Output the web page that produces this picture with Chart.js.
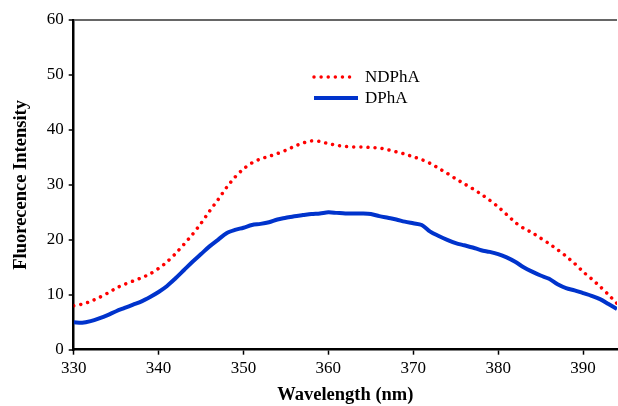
<!DOCTYPE html>
<html>
<head>
<meta charset="utf-8">
<script src="https://cdn.jsdelivr.net/npm/chart.js@4"></script>
<style>
  html, body { margin: 0; padding: 0; background: #fff; }
  #wrap { width: 618px; height: 406px; }
</style>
</head>
<body>
<div id="wrap"><canvas id="myChart" width="618" height="406"></canvas></div>
<script>
// wavelength in nm, one reading per nm
let wavelengths = [];
for (let w = 330; w <= 394; w++) wavelengths.push(w);

let ndpha = [
  8.0, 8.3, 8.8, 9.5, 10.3, 11.2, 11.9, 12.5, 13.1, 13.8,
  14.8, 16.0, 17.5, 19.2, 21.0, 23.0, 25.2, 27.3, 29.5, 31.4,
  32.9, 34.0, 34.7, 35.2, 35.7, 36.3, 37.0, 37.6, 38.0, 37.9,
  37.5, 37.2, 37.0, 36.9, 36.9, 36.8, 36.7, 36.4, 36.0, 35.6,
  35.1, 34.6, 33.9, 33.0, 32.1, 31.1, 30.2, 29.3, 28.3, 27.2,
  26.0, 24.6, 23.2, 22.1, 21.3, 20.3, 19.3, 18.2, 17.0, 15.7,
  14.2, 12.9, 11.5, 10.0, 8.4
];

let dpha = [
  5.0, 4.9, 5.2, 5.7, 6.3, 7.0, 7.6, 8.2, 8.8, 9.6,
  10.5, 11.6, 13.0, 14.5, 16.0, 17.4, 18.8, 20.0, 21.2, 21.8,
  22.2, 22.7, 22.9, 23.2, 23.7, 24.0, 24.3, 24.5, 24.7, 24.8,
  25.0, 24.9, 24.8, 24.8, 24.8, 24.7, 24.3, 24.0, 23.7, 23.3,
  23.0, 22.7, 21.5, 20.7, 20.0, 19.4, 19.0, 18.6, 18.1, 17.8,
  17.4, 16.8, 16.0, 15.0, 14.2, 13.5, 12.9, 11.9, 11.2, 10.8,
  10.3, 9.8, 9.2, 8.3, 7.4
];

let xTicks = [330, 340, 350, 360, 370, 380, 390];
let yTicks = [0, 10, 20, 30, 40, 50, 60];

let serif = "'Liberation Serif', 'Times New Roman', serif";

// small legend drawn inside the plot, like the original
const innerLegend = {
  id: 'innerLegend',
  afterDatasetsDraw(chart) {
    const c = chart.ctx;
    const rows = [
      { ds: chart.data.datasets[0], y: 77 },
      { ds: chart.data.datasets[1], y: 98 }
    ];
    c.save();
    rows.forEach(function(r) {
      c.beginPath();
      c.strokeStyle = r.ds.borderColor;
      c.lineWidth = r.ds.borderWidth;
      c.lineCap = r.ds.borderCapStyle || 'butt';
      c.setLineDash(r.ds.borderDash || []);
      c.moveTo(314, r.y);
      c.lineTo(r.ds.borderDash ? 354 : 358, r.y);
      c.stroke();
      c.setLineDash([]);
      c.fillStyle = '#000';
      c.font = "17px " + serif;
      c.textBaseline = 'middle';
      c.fillText(r.ds.label, 365, r.y + 1);
    });
    c.restore();
  }
};

var ctx = document.getElementById("myChart").getContext('2d');

var chart = new Chart(ctx, {
  type: 'line',
  data: {
    datasets: [{
      label: 'NDPhA',
      data: wavelengths.map((w, i) => ({ x: w, y: ndpha[i] })),
      borderColor: '#ff0000',
      borderWidth: 3.5,
      borderDash: [0.01, 7.1],
      borderCapStyle: 'round',
      pointRadius: 0,
      tension: 0.3,
      fill: false
    }, {
      label: 'DPhA',
      data: wavelengths.map((w, i) => ({ x: w, y: dpha[i] })),
      borderColor: '#0033cc',
      borderWidth: 4,
      pointRadius: 0,
      tension: 0.3,
      fill: false
    }]
  },
  options: {
    responsive: false,
    animation: false,
    layout: { padding: { top: 20, right: 1, left: 0, bottom: 0 } },
    plugins: {
      legend: { display: false },
      tooltip: { enabled: false }
    },
    scales: {
      x: {
        type: 'linear',
        min: 330,
        max: 394,
        afterBuildTicks: function(scale) {
          scale.ticks = xTicks.map(v => ({ value: v }));
        },
        afterFit: function(scale) { scale.height = 56.3; },
        ticks: {
          includeBounds: false,
          color: '#000',
          padding: 4,
          maxRotation: 0,
          font: { family: serif, size: 17 }
        },
        grid: {
          drawOnChartArea: false,
          drawTicks: true,
          tickLength: 5,
          tickColor: '#000',
          tickWidth: 1.5
        },
        border: { color: '#000', width: 2.5 },
        title: {
          display: true,
          text: 'Wavelength (nm)',
          color: '#000',
          font: { family: serif, size: 18.5, weight: 'bold' },
          padding: { top: 4, bottom: 0 }
        }
      },
      y: {
        min: 0,
        max: 60,
        afterBuildTicks: function(scale) {
          scale.ticks = yTicks.map(v => ({ value: v }));
        },
        afterFit: function(scale) { scale.width = 73.7; },
        ticks: {
          color: '#000',
          padding: 5,
          font: { family: serif, size: 17 }
        },
        grid: {
          drawOnChartArea: true,
          drawTicks: true,
          tickLength: 5,
          tickColor: '#000',
          tickWidth: 1.5,
          lineWidth: 2,
          color: function(c) { return c.tick && c.tick.value === 60 ? '#666666' : 'rgba(0,0,0,0)'; }
        },
        border: { color: '#000', width: 2.5 },
        title: {
          display: true,
          text: 'Fluorecence Intensity',
          color: '#000',
          font: { family: serif, size: 18.5, weight: 'bold' },
          padding: { top: 10, bottom: 4 }
        }
      }
    }
  },
  plugins: [innerLegend]
});
</script>
</body>
</html>
